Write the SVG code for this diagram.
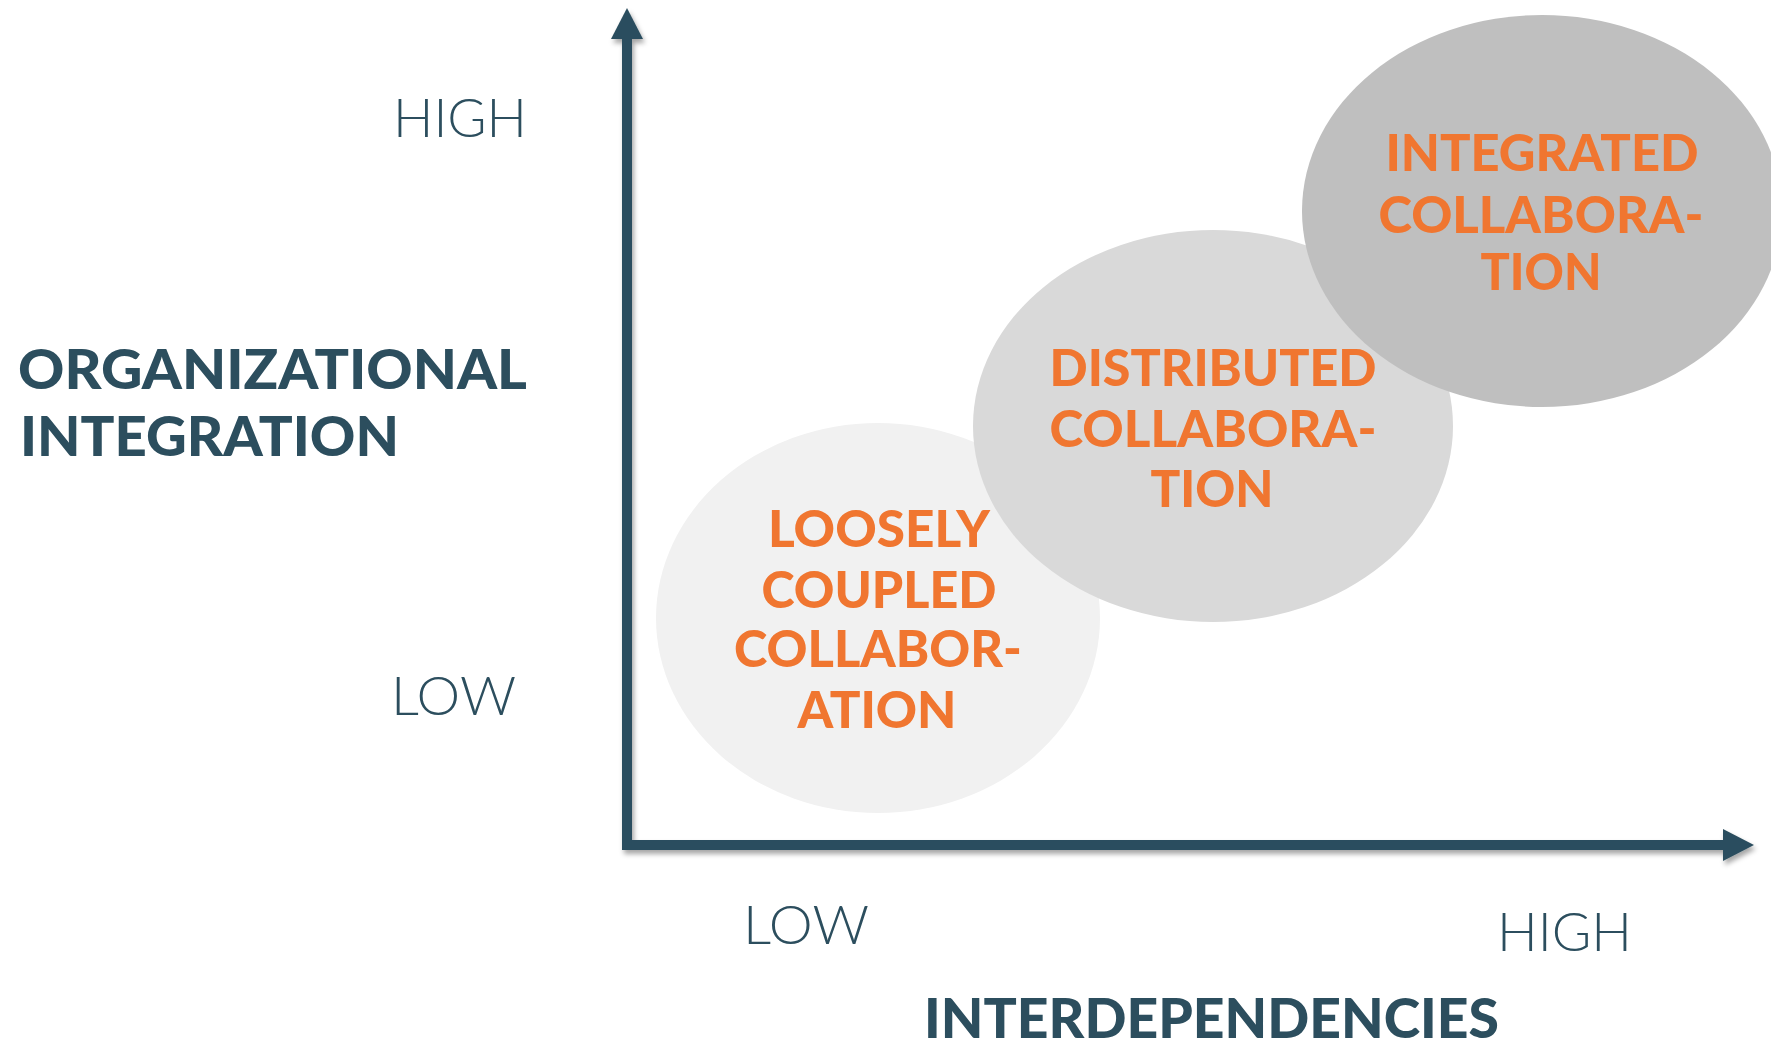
<svg xmlns="http://www.w3.org/2000/svg" width="1771" height="1042" viewBox="0 0 1771 1042">
  <defs>
    <style>
      .title { font-family: Lato, "Liberation Sans", sans-serif; font-weight: 900; fill: #2c4e5e; font-size: 56px; }
      .tick { font-family: Lato, "Liberation Sans", sans-serif; font-weight: 300; fill: #2c4e5e; font-size: 54px; }
      .label { font-family: Lato, "Liberation Sans", sans-serif; font-weight: 900; fill: #f07630; font-size: 52px; text-anchor: middle; }
      .axis { fill: none; stroke: #2c4e5e; stroke-width: 10; stroke-linejoin: miter; stroke-linecap: butt; }
    </style>
    <marker id="arrow" viewBox="0 0 31 32" refX="0" refY="16" markerWidth="31" markerHeight="32" markerUnits="userSpaceOnUse" orient="auto-start-reverse">
      <path d="M0,0 L31,16 L0,32 Z" fill="#2c4e5e"/>
    </marker>
    <filter id="shadow" x="-5%" y="-5%" width="110%" height="110%">
      <feDropShadow dx="2" dy="4" stdDeviation="2.5" flood-color="#000" flood-opacity="0.35"/>
    </filter>
  </defs>
  <rect width="1771" height="1042" fill="#ffffff"/>

  <g id="node-loosely">
    <ellipse cx="878" cy="618" rx="222" ry="195" fill="#f1f1f1"/>
  </g>
  <g id="node-distributed">
    <ellipse cx="1213" cy="426" rx="240" ry="196" fill="#d9d9d9"/>
  </g>
  <g id="node-integrated">
    <ellipse cx="1542" cy="211" rx="240" ry="196" fill="#bfbfbf"/>
  </g>

  <g id="label-loosely">
    <text class="label" x="879" y="547" textLength="222" lengthAdjust="spacingAndGlyphs">LOOSELY</text>
    <text class="label" x="879" y="608" textLength="235" lengthAdjust="spacingAndGlyphs">COUPLED</text>
    <text class="label" x="878" y="667" textLength="288" lengthAdjust="spacingAndGlyphs">COLLABOR-</text>
    <text class="label" x="877" y="728" textLength="159" lengthAdjust="spacingAndGlyphs">ATION</text>
  </g>
  <g id="label-distributed">
    <text class="label" x="1213" y="386" textLength="327" lengthAdjust="spacingAndGlyphs">DISTRIBUTED</text>
    <text class="label" x="1213" y="447" textLength="327" lengthAdjust="spacingAndGlyphs">COLLABORA-</text>
    <text class="label" x="1212" y="507" textLength="123" lengthAdjust="spacingAndGlyphs">TION</text>
  </g>
  <g id="label-integrated">
    <text class="label" x="1542" y="171" textLength="313" lengthAdjust="spacingAndGlyphs">INTEGRATED</text>
    <text class="label" x="1541" y="233" textLength="325" lengthAdjust="spacingAndGlyphs">COLLABORA-</text>
    <text class="label" x="1541" y="290" textLength="121" lengthAdjust="spacingAndGlyphs">TION</text>
  </g>

  <g id="connectors">
    <path class="axis" d="M627,39 V845 H1723" marker-start="url(#arrow)" marker-end="url(#arrow)" filter="url(#shadow)"/>
  </g>

  <g id="axis-y-labels">
    <text class="tick" x="393" y="137" textLength="134" lengthAdjust="spacingAndGlyphs">HIGH</text>
    <text class="tick" x="391" y="715" textLength="125" lengthAdjust="spacingAndGlyphs">LOW</text>
    <text class="title" x="18" y="389" textLength="509" lengthAdjust="spacingAndGlyphs">ORGANIZATIONAL</text>
    <text class="title" x="20" y="456" textLength="379" lengthAdjust="spacingAndGlyphs">INTEGRATION</text>
  </g>
  <g id="axis-x-labels">
    <text class="tick" x="743" y="944" textLength="126" lengthAdjust="spacingAndGlyphs">LOW</text>
    <text class="tick" x="1497" y="951" textLength="135" lengthAdjust="spacingAndGlyphs">HIGH</text>
    <text class="title" x="924" y="1038" textLength="575" lengthAdjust="spacingAndGlyphs">INTERDEPENDENCIES</text>
  </g>
</svg>
